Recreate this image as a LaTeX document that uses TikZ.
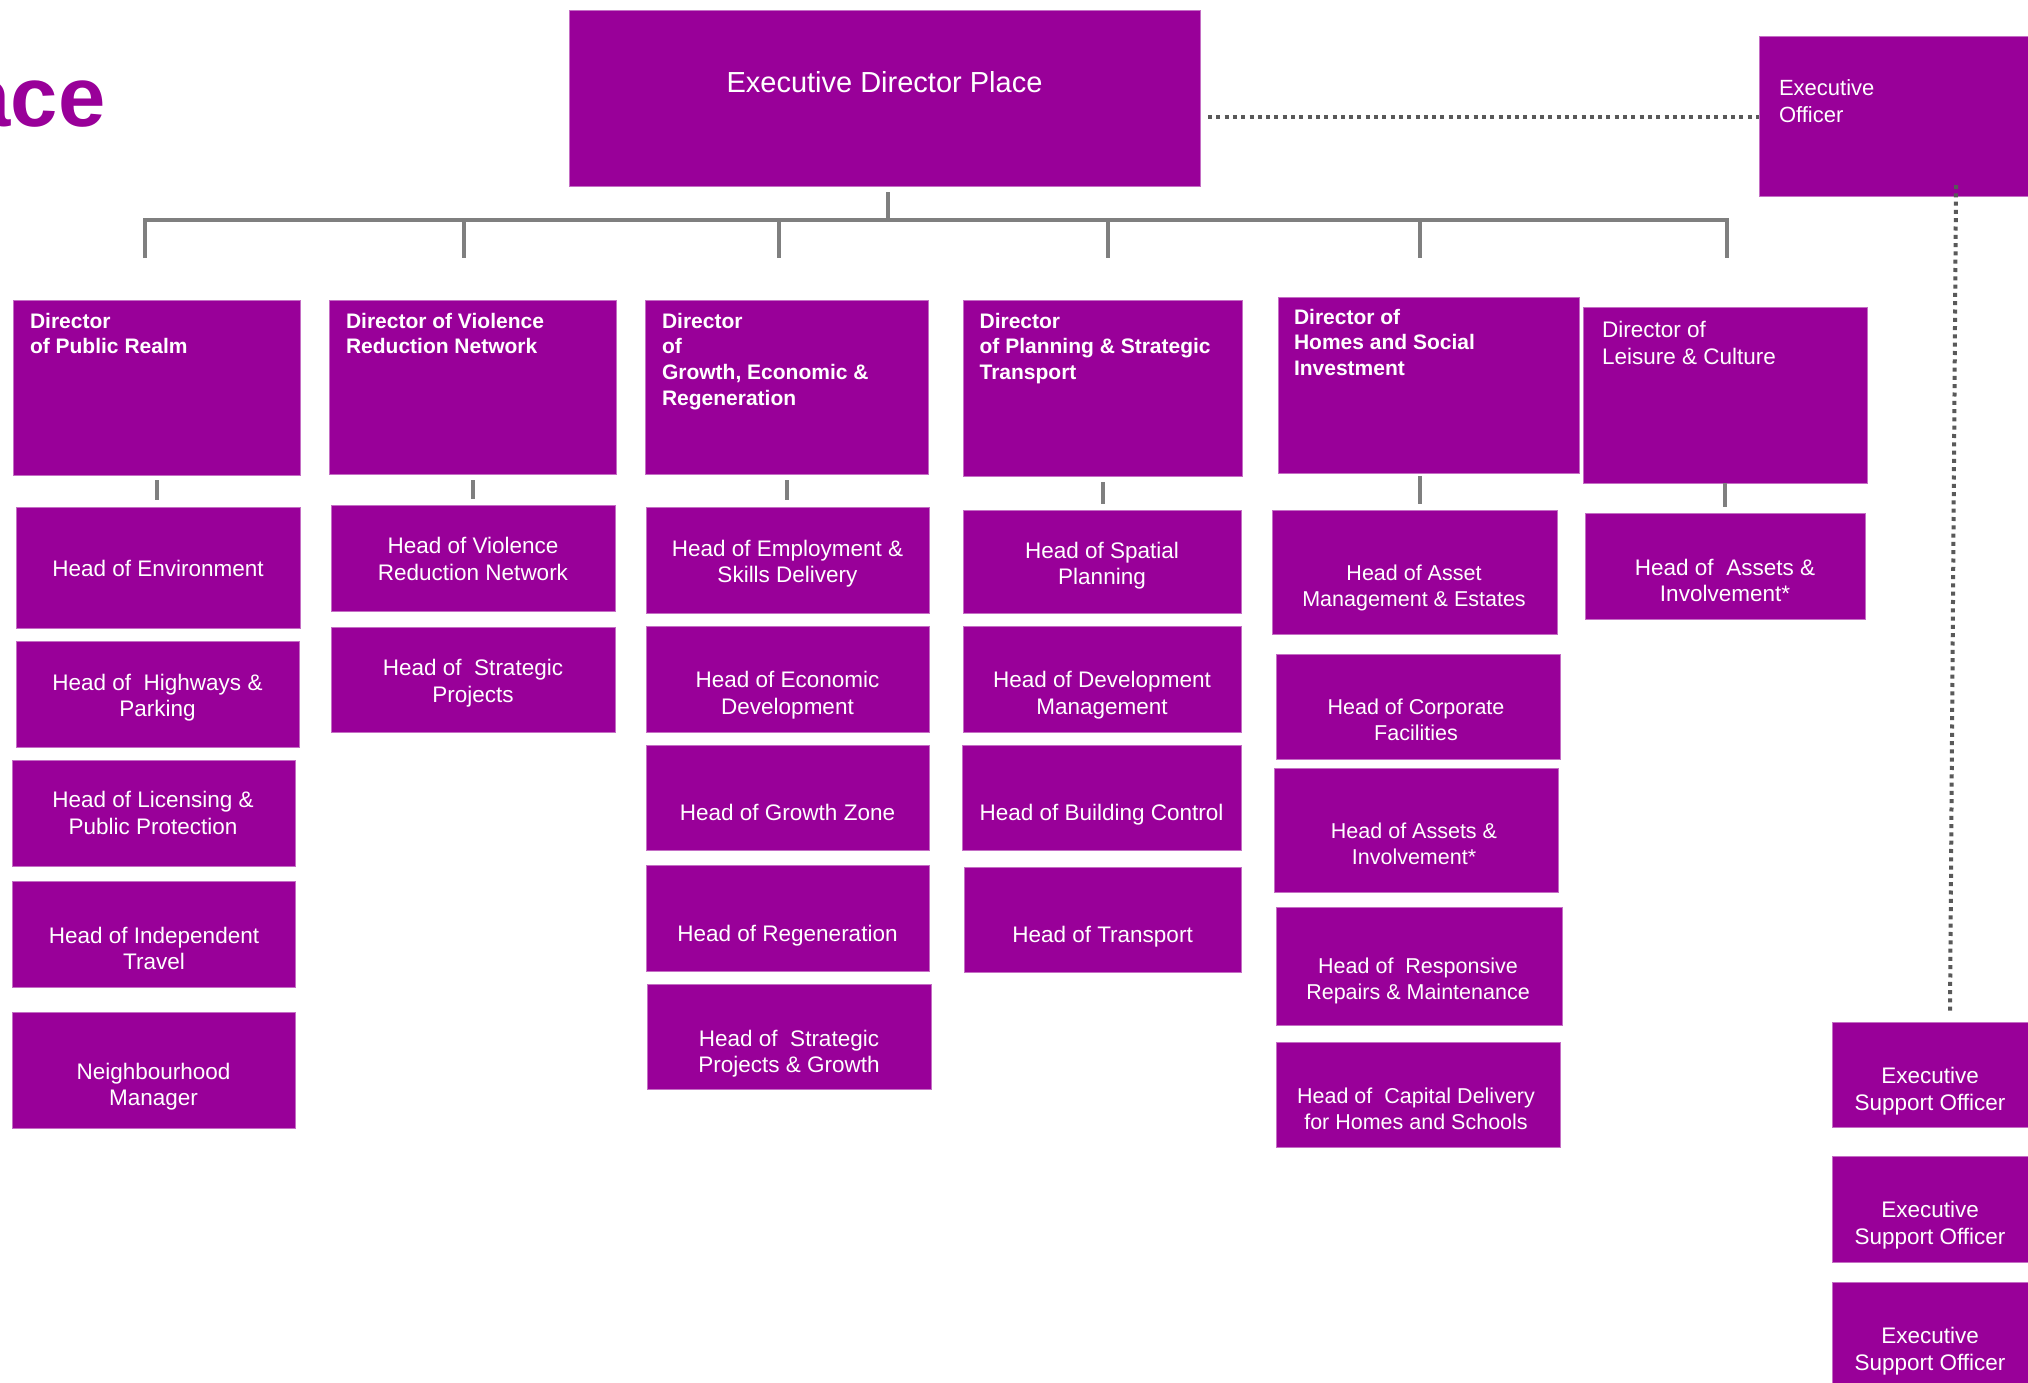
\documentclass[tikz,border=0pt]{standalone}
\usepackage{fontspec}
\setmainfont{Liberation Sans}
\usetikzlibrary{calc}
\definecolor{pur}{RGB}{153,0,153}
\definecolor{purEdge}{RGB}{196,110,196}
\definecolor{lineGray}{RGB}{127,127,127}
\definecolor{dotGray}{RGB}{89,89,89}
\newcommand\fHead{\fontsize{22.5}{26.5}\selectfont}
\newcommand\fHome{\fontsize{21.5}{26}\selectfont}
\newcommand\fDirB{\fontsize{21}{25.7}\selectfont\bfseries}
\newcommand\fDirR{\fontsize{22.5}{27}\selectfont}
\newcommand\fExec{\fontsize{29}{35}\selectfont}
\newcommand\fEO{\fontsize{22}{27}\selectfont}
\newcommand\fESO{\fontsize{22.5}{27}\selectfont}
\newcommand\OBox[5]{\node[pbox, anchor=north west, minimum width={(#4-#2)*1pt}, minimum height={(#5-#3)*1pt}] (#1) at (#2,#3) {};}
\newcommand\CTxt[5]{\node[txt, font=#4, anchor=base] (#1) at (#2,#3) {\begin{tabular}[t]{@{}c@{}}#5\end{tabular}};}
\newcommand\LTxt[5]{\node[txt, font=#4, anchor=base west] (#1) at (#2,#3) {\begin{tabular}[t]{@{}l@{}}#5\end{tabular}};}
\tikzset{
  pbox/.style={rectangle, fill=pur, draw=purEdge, line width=0.8pt, inner sep=0pt, outer sep=0pt},
  txt/.style={text=white, inner sep=0pt, outer sep=0pt},
  conn/.style={draw=lineGray, line width=4pt},
  dotl/.style={draw=dotGray, line width=4pt, dash pattern=on 4pt off 4.3pt},
}
\begin{document}
\begin{tikzpicture}[x=1pt,y=-1pt]
\useasboundingbox (0,0) rectangle (2028,1382);
\clip (0,0) rectangle (2028,1382);
\fill[white] (0,0) rectangle (2028,1382);

% title (cut off at the left edge, as in the reference)
\node[font=\fontsize{85}{100}\selectfont\bfseries, text=pur, anchor=base east, inner sep=0pt] (title) at (105.5,126) {Place};

% top level
\OBox{ed}{569}{10}{1200.6}{186}
\OBox{eo}{1759}{36}{2045}{196}

% directors
\OBox{dpr}{13}{300}{300}{475}
\OBox{dv}{329.5}{300}{616.5}{474}
\OBox{dg}{645}{300}{928}{474}
\OBox{dp}{963}{300}{1242}{476}
\OBox{dh}{1278}{297}{1579}{473}
\OBox{dl}{1583}{307}{1867}{483}

% heads: public realm
\OBox{hpr1}{16}{507}{300}{628}
\OBox{hpr2}{16}{641}{299}{747}
\OBox{hpr3}{12}{760}{295}{866}
\OBox{hpr4}{12.5}{881.5}{295.5}{987}
\OBox{hpr5}{12}{1012}{295}{1128}
% violence
\OBox{hv1}{331}{505}{615}{611}
\OBox{hv2}{331}{627}{615}{732.5}
% growth
\OBox{hg1}{646}{507}{929}{613}
\OBox{hg2}{646}{626}{929}{732}
\OBox{hg3}{646}{745}{929}{850}
\OBox{hg4}{646}{865.5}{929}{971}
\OBox{hg5}{647}{984}{931}{1089}
% planning
\OBox{hp1}{963}{510}{1241}{613}
\OBox{hp2}{963}{626}{1241}{732}
\OBox{hp3}{962}{745}{1241}{850}
\OBox{hp4}{964}{867}{1241}{972}
% homes
\OBox{hh1}{1272}{510}{1557}{634}
\OBox{hh2}{1276}{654}{1560}{759.5}
\OBox{hh3}{1274}{768}{1558}{892.5}
\OBox{hh4}{1276}{907}{1562}{1025.5}
\OBox{hh5}{1276}{1042}{1560}{1147}
% leisure
\OBox{hl1}{1585}{513}{1865}{619}
% executive support
\OBox{es1}{1832}{1022}{2045}{1127}
\OBox{es2}{1832}{1156}{2045}{1262}
\OBox{es3}{1832}{1282}{2045}{1400}

% connectors: top bar
\coordinate (barL) at (145,220);
\coordinate (t1) at (145,258);
\coordinate (t2) at (464,258);
\coordinate (t3) at (779,258);
\coordinate (t4) at (1108,258);
\coordinate (t5) at (1420,258);
\coordinate (t6) at (1727,258);
\draw[conn] ([xshift=3pt,yshift=-6pt]ed.south) -- ([xshift=3pt]ed.south |- barL);
\draw[conn] (t1) -- (t1 |- barL) -- (t6 |- barL) -- (t6);
\foreach \t in {t2,t3,t4,t5} \draw[conn] (\t |- barL) -- (\t);

% connectors: director to first head
\draw[conn] ([yshift=-5pt]dpr.south) -- ([yshift=7pt]dpr.south |- hpr1.north);
\draw[conn] ([yshift=-6pt]dv.south) -- ([yshift=6pt]dv.south |- hv1.north);
\draw[conn] ([yshift=-6pt]dg.south) -- ([yshift=7pt]dg.south |- hg1.north);
\draw[conn] ([yshift=-6pt]dp.south) -- ([yshift=6pt]dp.south |- hp1.north);
\draw[conn] ([xshift=-8.5pt,yshift=-3pt]dh.south) -- ([xshift=-8.5pt,yshift=6pt]dh.south |- hh1.north);
\draw[conn] (dl.south) -- ([yshift=6pt]dl.south |- hl1.north);

% dotted links
\coordinate (dlA) at (1208,116.5);
\draw[dotl] (dlA) -- (dlA -| eo.west);
\coordinate (vdA) at (1956,185);
\coordinate (vdB) at (1950,1012);
\draw[dotl] (vdA) -- (vdB);

% texts
\CTxt{ed-t}{884.5}{92}{\fExec}{Executive Director Place}
\LTxt{eo-t}{1779}{95}{\fEO}{Executive\\Officer}

\LTxt{dpr-t}{30}{328}{\fDirB}{Director\\of Public Realm}
\LTxt{dv-t}{346}{328}{\fDirB}{Director of Violence\\Reduction Network}
\LTxt{dg-t}{662}{328}{\fDirB}{Director\\of\\Growth, Economic \&\\Regeneration}
\LTxt{dp-t}{979.6}{328}{\fDirB}{Director\\of Planning \& Strategic\\Transport}
\LTxt{dh-t}{1294}{324}{\fDirB}{Director of\\Homes and Social\\Investment}
\LTxt{dl-t}{1602}{337}{\fDirR}{Director of\\Leisure \& Culture}

\CTxt{hpr1-t}{158}{576}{\fHead}{Head of Environment}
\CTxt{hpr2-t}{157.5}{690}{\fHead}{Head of\ \ Highways \&\\Parking}
\CTxt{hpr3-t}{153}{807.5}{\fHead}{Head of Licensing \&\\Public Protection}
\CTxt{hpr4-t}{154}{943}{\fHead}{Head of Independent\\Travel}
\CTxt{hpr5-t}{153.5}{1079}{\fHead}{Neighbourhood\\Manager}

\CTxt{hv1-t}{473}{553.7}{\fHead}{Head of Violence\\Reduction Network}
\CTxt{hv2-t}{473}{675.7}{\fHead}{Head of\ \ Strategic\\Projects}

\CTxt{hg1-t}{787.5}{556}{\fHead}{Head of Employment \&\\Skills Delivery}
\CTxt{hg2-t}{787.5}{687.5}{\fHead}{Head of Economic\\Development}
\CTxt{hg3-t}{787.5}{820}{\fHead}{Head of Growth Zone}
\CTxt{hg4-t}{787.5}{941}{\fHead}{Head of Regeneration}
\CTxt{hg5-t}{789}{1046}{\fHead}{Head of\ \ Strategic\\Projects \& Growth}

\CTxt{hp1-t}{1102}{558}{\fHead}{Head of Spatial\\Planning}
\CTxt{hp2-t}{1102}{687.5}{\fHead}{Head of Development\\Management}
\CTxt{hp3-t}{1101.5}{820}{\fHead}{Head of Building Control}
\CTxt{hp4-t}{1102.5}{942}{\fHead}{Head of Transport}

\CTxt{hh1-t}{1414}{580}{\fHome}{Head of Asset\\Management \& Estates}
\CTxt{hh2-t}{1416}{714}{\fHome}{Head of Corporate\\Facilities}
\CTxt{hh3-t}{1414}{838}{\fHome}{Head of Assets \&\\Involvement*}
\CTxt{hh4-t}{1418}{973}{\fHome}{Head of\ \ Responsive\\Repairs \& Maintenance}
\CTxt{hh5-t}{1416}{1103}{\fHome}{Head of\ \ Capital Delivery\\for Homes and Schools}

\CTxt{hl1-t}{1725}{575}{\fHead}{Head of\ \ Assets \&\\Involvement*}

\CTxt{es1-t}{1930}{1083}{\fESO}{Executive\\Support Officer}
\CTxt{es2-t}{1930}{1217}{\fESO}{Executive\\Support Officer}
\CTxt{es3-t}{1930}{1343}{\fESO}{Executive\\Support Officer}
\end{tikzpicture}
\end{document}
